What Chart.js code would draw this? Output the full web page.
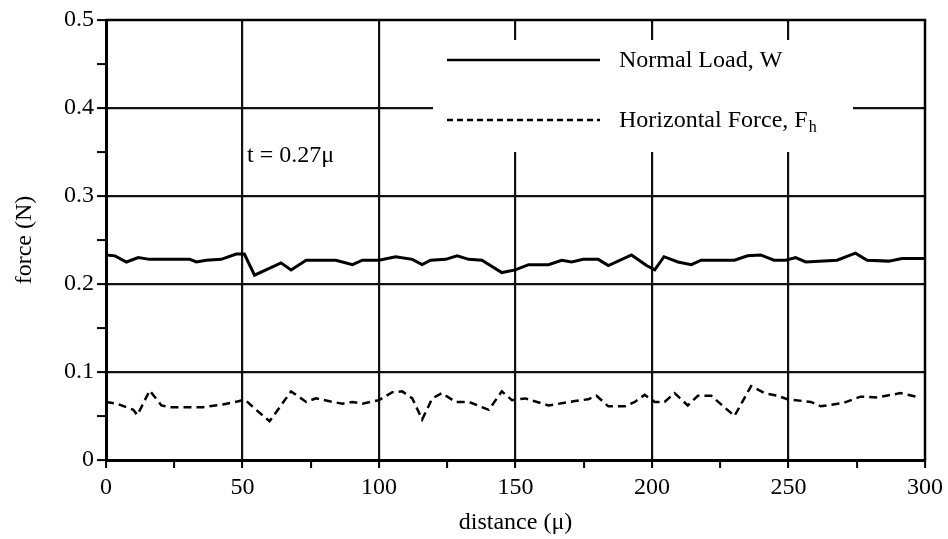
<!DOCTYPE html>
<html>
<head>
<meta charset="utf-8">
<script src="https://cdn.jsdelivr.net/npm/chart.js@4.4.0/dist/chart.umd.min.js"></script>
<style>
    html, body { margin: 0; padding: 0; background: #fff; }
    #wrap { width: 948px; height: 539px; }
</style>
</head>
<body>
<div id="wrap"><canvas id="forceChart" width="948" height="539"></canvas></div>
<script>
// Normal load, W
const loadX = [0, 3.3, 7.5, 11.8, 16, 30.7, 33.1, 36.7, 42.2, 47.7, 50.7, 54.4, 64.1, 67.8, 73.3, 84.2, 90.3, 93.9,
    100, 106.1, 112.2, 115.8, 118.9, 124.4, 128.6, 132.9, 137.7, 145, 149.9, 154.8, 162.1, 166.9, 170.6, 174.8,
    180.3, 184, 192.5, 198, 201, 204.4, 209.5, 214.4, 218, 230.2, 235, 239.8, 244.7, 249, 252.6, 256.3, 267.8,
    274.5, 278.8, 286.7, 291.6, 300];
const loadY = [0.233, 0.232, 0.225, 0.230, 0.228, 0.228, 0.225, 0.227, 0.228, 0.234, 0.234, 0.210, 0.224, 0.216, 0.227, 0.227, 0.222, 0.227,
    0.227, 0.231, 0.228, 0.222, 0.227, 0.228, 0.232, 0.228, 0.227, 0.213, 0.216, 0.222, 0.222, 0.227, 0.225, 0.228,
    0.228, 0.221, 0.233, 0.221, 0.216, 0.231, 0.225, 0.222, 0.227, 0.227, 0.232, 0.233, 0.227, 0.227, 0.230, 0.225, 0.227,
    0.235, 0.227, 0.226, 0.229, 0.229];

// Horizontal force, Fh
const hForceX = [0, 4, 10, 11.5, 16, 20.3, 23.4, 35.5, 42.8, 48.9, 50.7, 55, 59.9, 67.8, 73.3, 76.9, 83, 86.6, 90.3, 93.9,
    100, 104.9, 108.5, 112.2, 115.8, 119.5, 123.1, 128, 132.9, 140.2, 145, 148.7, 153.6, 162.1, 171.8, 176.6, 179.7,
    184, 190, 193.7, 197.3, 201, 204.6, 208.3, 213.1, 216.8, 221.7, 230.2, 236.3, 241.2, 246, 249.6, 258.2, 261.8,
    270.3, 276.4, 282.5, 291, 298.3];
const hForceY = [0.066, 0.064, 0.057, 0.051, 0.079, 0.062, 0.060, 0.060, 0.063, 0.067, 0.069, 0.057, 0.044, 0.078, 0.066, 0.070, 0.066, 0.064, 0.066, 0.064,
    0.068, 0.077, 0.078, 0.070, 0.046, 0.070, 0.076, 0.066, 0.066, 0.057, 0.078, 0.068, 0.070, 0.062, 0.067, 0.069, 0.073,
    0.061, 0.061, 0.066, 0.074, 0.066, 0.066, 0.076, 0.062, 0.073, 0.073, 0.050, 0.084, 0.076, 0.073, 0.069, 0.066, 0.061,
    0.065, 0.072, 0.071, 0.076, 0.071];

const xLabelStep = 50;   // labelled every 50, minor tick every 25
const yLabelStep = 0.1;  // labelled every 0.1, minor tick every 0.05
const seriesNames = ['Normal Load, W', 'Horizontal Force, F'];
const noteText = 't = 0.27\u03bc';

const serif = '"Liberation Serif", "Times New Roman", serif';

function isMajor(value, step) {
    const r = value / step;
    return Math.abs(r - Math.round(r)) < 1e-6;
}

// White legend box drawn over the grid, plus the thickness note
const legendBox = {
    id: 'legendBox',
    beforeDatasetsDraw(chart) {
        const ctx = chart.ctx;
        ctx.save();
        ctx.fillStyle = '#fff';
        ctx.fillRect(433, 40, 420, 112);

        ctx.strokeStyle = '#000';
        ctx.lineWidth = 2.5;
        ctx.beginPath();
        ctx.moveTo(447, 60);
        ctx.lineTo(600, 60);
        ctx.stroke();

        ctx.setLineDash([6, 4]);
        ctx.beginPath();
        ctx.moveTo(447, 120);
        ctx.lineTo(600, 120);
        ctx.stroke();
        ctx.setLineDash([]);

        ctx.fillStyle = '#000';
        ctx.font = '24px ' + serif;
        ctx.textBaseline = 'middle';
        ctx.textAlign = 'left';
        ctx.fillText(seriesNames[0], 619, 61);
        ctx.fillText(seriesNames[1], 619, 121);
        const w = ctx.measureText(seriesNames[1]).width;
        ctx.font = '16px ' + serif;
        ctx.fillText('h', 619 + w + 1, 128);

        ctx.font = '24px ' + serif;
        ctx.fillText(noteText, 247, 156);
        ctx.restore();
    },
    afterDraw(chart) {
        const {ctx, chartArea} = chart;
        ctx.save();
        ctx.strokeStyle = '#000';
        ctx.lineWidth = 2.5;
        ctx.beginPath();
        ctx.moveTo(chartArea.left, chartArea.top);
        ctx.lineTo(chartArea.right, chartArea.top);
        ctx.lineTo(chartArea.right, chartArea.bottom);
        ctx.stroke();
        ctx.restore();
    }
};

new Chart(document.getElementById('forceChart'), {
    type: 'scatter',
    data: {
        datasets: [
            {
                label: seriesNames[0],
                data: loadX.map((x, i) => ({x: x, y: loadY[i]})),
                showLine: true,
                borderColor: '#000',
                borderWidth: 3,
                pointRadius: 0,
                tension: 0
            },
            {
                label: seriesNames[1],
                data: hForceX.map((x, i) => ({x: x, y: hForceY[i]})),
                showLine: true,
                borderColor: '#000',
                borderWidth: 2.5,
                borderDash: [8, 5],
                pointRadius: 0,
                tension: 0
            }
        ]
    },
    options: {
        responsive: false,
        animation: false,
        layout: {padding: {left: 10, right: 20, top: 20, bottom: 0}},
        plugins: {
            legend: {display: false},
            tooltip: {enabled: false}
        },
        scales: {
            x: {
                type: 'linear',
                min: 0,
                max: 300,
                afterFit(scale) { scale.height = 79; },
                ticks: {
                    stepSize: 25,
                    autoSkip: false,
                    maxRotation: 0,
                    padding: 5,
                    color: '#000',
                    font: {family: serif, size: 24},
                    callback: v => isMajor(v, xLabelStep) ? String(v) : ''
                },
                grid: {
                    color: c => (c.tick && isMajor(c.tick.value, xLabelStep) && c.tick.value > 0 && c.tick.value < 300) ? '#111' : 'rgba(0,0,0,0)',
                    tickColor: '#000',
                    lineWidth: 2.2,
                    tickWidth: 2,
                    tickLength: 8,
                    drawTicks: true
                },
                border: {display: true, color: '#000', width: 3},
                title: {
                    display: true,
                    text: 'distance (\u03bc)',
                    color: '#000',
                    font: {family: serif, size: 24},
                    padding: {top: 0, bottom: 2}
                }
            },
            y: {
                min: 0,
                max: 0.5,
                afterFit(scale) { scale.width = 96; },
                ticks: {
                    stepSize: 0.05,
                    autoSkip: false,
                    padding: 3,
                    color: '#000',
                    font: {family: serif, size: 24},
                    callback: v => isMajor(v, yLabelStep) ? (Math.round(v * 10) / 10).toString() : ''
                },
                grid: {
                    color: c => (c.tick && isMajor(c.tick.value, yLabelStep) && c.tick.value > 0 && c.tick.value < 0.5) ? '#111' : 'rgba(0,0,0,0)',
                    tickColor: '#000',
                    lineWidth: 2.2,
                    tickWidth: 2,
                    tickLength: 9
                },
                border: {display: true, color: '#000', width: 3},
                title: {
                    display: true,
                    text: 'force (N)',
                    color: '#000',
                    font: {family: serif, size: 24},
                    padding: {top: 0, bottom: 2}
                }
            }
        }
    },
    plugins: [legendBox]
});
</script>
</body>
</html>
